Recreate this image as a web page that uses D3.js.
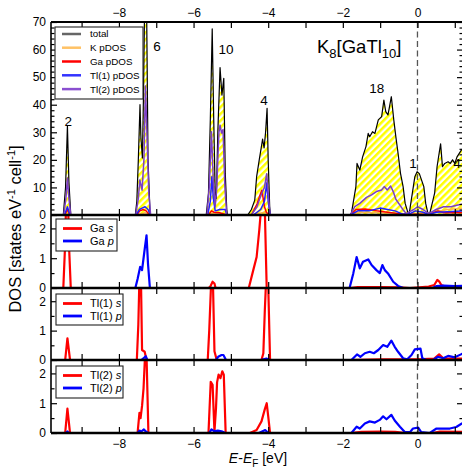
<!DOCTYPE html>
<html>
<head>
<meta charset="utf-8">
<script src="https://cdn.jsdelivr.net/npm/d3@7"></script>
<style>
  body { margin: 0; background: #fff; }
  svg { display: block; }
  text { font-family: "Liberation Sans", Arial, Helvetica, sans-serif; fill: #000; }
</style>
</head>
<body>
<svg id="chart" width="462" height="468"></svg>
<script>
// ---- Energy axis (eV relative to the Fermi level) ----
const energyDomain = [-9.82, 1.22];
const xMajorTicks = [-8, -6, -4, -2, 0];
const xMinorTicks = [-9, -7, -5, -3, -1, 1];

// ---- Top panel: total and projected DOS, [E, DOS] ----
const totalDOS = [
  [-9.82,0],[-9.49,0],[-9.43,10],[-9.38,32.3],[-9.34,12],[-9.29,0],
  [-7.56,0],[-7.52,5],[-7.48,20],[-7.435,40],[-7.41,28],[-7.37,20.7],[-7.34,45],[-7.31,78],[-7.26,78],[-7.22,20],[-7.17,2],[-7.15,0],
  [-5.66,0],[-5.60,8],[-5.55,35],[-5.50,67.5],[-5.46,35],[-5.42,8],[-5.39,6],[-5.35,30],[-5.29,53.5],[-5.24,43.5],[-5.19,49.6],[-5.15,15],[-5.11,2],[-5.09,0],
  [-4.55,0],[-4.45,2],[-4.36,5.4],[-4.31,13.9],[-4.24,20],[-4.18,25],[-4.15,27.5],[-4.11,24.3],[-4.07,30],[-4.03,38.7],[-4.0,20],[-3.96,3],[-3.94,0],
  [-1.81,0],[-1.77,0.6],[-1.65,10.3],[-1.62,18.7],[-1.545,16.3],[-1.47,21.1],[-1.38,24.8],[-1.32,29.6],[-1.28,28.4],[-1.205,30.2],[-1.14,29.6],
  [-1.05,34.5],[-0.96,35.7],[-0.90,41.7],[-0.85,37.5],[-0.79,36.3],[-0.70,42.9],[-0.635,34.5],[-0.58,28.4],[-0.52,22.4],[-0.455,15.1],
  [-0.385,10.3],[-0.33,4.2],[-0.25,0.6],
  [-0.22,0.6],[-0.07,13.9],[-0.01,15.7],[0.05,15],[0.17,10.3],[0.22,4.2],[0.28,0.6],
  [0.33,0.6],[0.46,7.9],[0.525,17.5],[0.58,22.4],[0.62,25.8],[0.67,17.5],[0.73,18.7],[0.82,19.3],[0.88,18.7],[0.94,20],[1.0,18.7],[1.06,21.1],[1.18,23.6],[1.22,24]
];
const kPDOS = [
  [-9.82,0],[-9.45,0],[-9.38,0.5],[-9.3,0],[-7.5,0],[-7.3,0.8],[-7.15,0],[-5.6,0],[-5.5,0.6],[-5.2,0.5],[-5.1,0],
  [-4.45,0],[-4.1,1],[-3.95,0],[-1.8,0],[-1.6,1],[-1.0,0.8],[-0.5,0.5],[-0.3,0.2],[0,0.5],[0.3,0.2],[0.5,1.2],[0.8,2],[1.22,2.5]
];
const gaPDOS = [
  [-9.82,0],[-9.45,0],[-9.38,2],[-9.32,0],[-7.52,0],[-7.44,1.5],[-7.35,2],[-7.27,1.5],[-7.18,0],
  [-5.6,0],[-5.52,1.5],[-5.45,1],[-5.3,0.8],[-5.11,0],[-4.45,0],[-4.3,4],[-4.2,8],[-4.17,9],[-4.1,3],[-4.05,1],[-3.97,0],
  [-1.8,0],[-1.65,2],[-1.4,2.2],[-1.1,1.5],[-0.8,1],[-0.5,0.5],[-0.3,0.2],[0,0.3],[0.3,0.2],[0.55,1.5],[0.7,0.8],[1.22,0.8]
];
const tl1PDOS = [
  [-9.82,0],[-9.46,0],[-9.38,3],[-9.31,0],[-7.54,0],[-7.45,2],[-7.38,2.5],[-7.3,3],[-7.22,2],[-7.16,0],
  [-5.62,0],[-5.55,5],[-5.51,13.9],[-5.47,6],[-5.42,1.5],[-5.3,2],[-5.15,2],[-5.11,0],
  [-4.4,0],[-4.2,2],[-4.1,5],[-4.04,11.6],[-4.0,5],[-3.95,0],
  [-1.8,0],[-1.6,1.5],[-1.3,1.5],[-1.0,2.5],[-0.8,2],[-0.6,1.5],[-0.4,0.3],[-0.2,0.5],[-0.05,1.5],[0.15,1],[0.3,0.2],[0.5,1],[0.8,1.2],[1.22,1.5]
];
const tl2PDOS = [
  [-9.82,0],[-9.48,0],[-9.42,6],[-9.38,13.4],[-9.34,6],[-9.29,0],
  [-7.55,0],[-7.48,6],[-7.44,12.7],[-7.38,9],[-7.33,20],[-7.29,46.8],[-7.25,30],[-7.2,8],[-7.15,0],
  [-5.64,0],[-5.58,10],[-5.52,30.2],[-5.47,12],[-5.42,3],[-5.38,10],[-5.32,30],[-5.29,32.6],[-5.25,29.7],[-5.21,31],[-5.16,10],[-5.11,0],
  [-4.45,0],[-4.3,3],[-4.2,7],[-4.1,10],[-4.04,15],[-4.0,8],[-3.95,0],
  [-1.8,0],[-1.77,0.8],[-1.68,3],[-1.545,4.2],[-1.365,6.4],[-1.23,7.3],[-1.10,8.5],[-0.96,9.1],[-0.89,10.3],[-0.81,9.1],[-0.72,10.5],
  [-0.65,8.5],[-0.58,5.7],[-0.47,3.6],[-0.37,1.6],[-0.3,0.5],[-0.1,2],[0,3],[0.15,2],[0.3,0.5],[0.5,2],[0.7,3],[0.9,3],[1.05,3.5],[1.22,4]
];

// ---- Orbital-resolved DOS, [E, DOS] ----
const gaS = [
  [-9.82,0],[-9.49,0],[-9.44,1.5],[-9.41,3.2],[-9.37,3.2],[-9.33,1.2],[-9.29,0],
  [-5.6,0],[-5.55,0.05],[-5.49,0.21],[-5.44,0.15],[-5.41,0],
  [-4.52,0],[-4.40,0.6],[-4.31,1.04],[-4.24,1.93],[-4.195,2.6],[-4.15,3.5],[-4.11,3.5],[-4.09,2.6],[-4.04,0],
  [-1.8,0],[-1.6,0.03],[-1.0,0.03],[-0.5,0.02],[-0.2,0],[0.3,0.05],[0.45,0.1],[0.53,0.27],[0.58,0.22],[0.64,0.1],[0.75,0.04],[1.22,0.03]
];
const gaP = [
  [-9.82,0],[-7.56,0],[-7.50,0.3],[-7.43,0.71],[-7.38,0.6],[-7.32,1.2],[-7.26,1.77],[-7.22,0.8],[-7.17,0],
  [-1.82,0],[-1.72,0.49],[-1.63,1.04],[-1.545,0.66],[-1.46,0.88],[-1.32,0.96],[-1.23,0.77],[-1.10,0.6],[-1.01,0.5],
  [-0.94,0.77],[-0.875,0.6],[-0.79,0.49],[-0.65,0.21],[-0.52,0.07],[-0.38,0],[0.4,0],[0.5,0.06],[0.7,0.08],[1.0,0.06],[1.22,0.07]
];
const tl1S = [
  [-9.82,0],[-9.44,0],[-9.38,0.74],[-9.31,0],
  [-7.52,0],[-7.48,1.2],[-7.45,2.8],[-7.41,2.8],[-7.38,0.34],[-7.31,0.28],[-7.26,0],
  [-5.62,0],[-5.58,1.0],[-5.53,2.6],[-5.48,2.6],[-5.44,0.3],[-5.41,0.15],[-5.38,0],
  [-4.18,0],[-4.13,0.23],[-4.09,1.7],[-4.06,2.6],[-4.0,2.6],[-3.95,0],
  [-1.8,0],[-1.0,0.02],[0,0.02],[0.45,0.05],[0.58,0.19],[0.69,0.06],[1.22,0.05]
];
const tl1P = [
  [-9.82,0],[-7.4,0],[-7.32,0.08],[-7.28,0.13],[-7.24,0],[-5.4,0],[-5.34,0.11],[-5.25,0.17],[-5.20,0.17],[-5.13,0],
  [-4.2,0],[-4.05,0.05],[-3.95,0],
  [-1.77,0],[-1.62,0.19],[-1.53,0.11],[-1.41,0.23],[-1.28,0.28],[-1.17,0.23],[-1.05,0.34],[-0.92,0.51],[-0.81,0.45],[-0.70,0.66],
  [-0.61,0.45],[-0.52,0.28],[-0.385,0.06],[-0.28,0.02],[-0.16,0.17],[-0.07,0.36],[0.08,0.39],[0.13,0.06],[0.24,0],[0.42,0],
  [0.55,0.11],[0.69,0.06],[0.82,0.14],[1.0,0.09],[1.18,0.2],[1.22,0.22]
];
const tl2S = [
  [-9.82,0],[-9.44,0],[-9.38,0.82],[-9.31,0],
  [-7.50,0],[-7.45,0.68],[-7.42,0.5],[-7.38,0.91],[-7.34,1.5],[-7.30,2.6],[-7.26,2.6],[-7.21,0],
  [-5.60,0],[-5.54,1.72],[-5.49,1.62],[-5.44,0.05],[-5.40,0.8],[-5.37,1.7],[-5.33,1.96],[-5.28,1.84],[-5.23,2.07],[-5.19,1.96],[-5.14,0],
  [-4.49,0],[-4.31,0.1],[-4.18,0.39],[-4.09,0.8],[-4.04,1.0],[-4.0,0.57],[-3.95,0],
  [-1.8,0],[-1.5,0.04],[-1.0,0.05],[-0.6,0.04],[-0.3,0],[0.4,0],[0.6,0.05],[1.22,0.04]
];
const tl2P = [
  [-9.82,0],[-9.42,0],[-9.38,0.05],[-9.34,0],[-7.5,0],[-7.45,0.08],[-7.4,0.05],[-7.33,0.12],[-7.28,0.05],[-7.22,0],
  [-5.58,0],[-5.52,0.12],[-5.45,0.06],[-5.35,0.08],[-5.25,0.06],[-5.15,0],[-4.25,0],[-4.15,0.06],[-4.08,0.1],[-4.0,0],
  [-1.77,0],[-1.63,0.21],[-1.545,0.15],[-1.41,0.32],[-1.28,0.39],[-1.14,0.35],[-1.01,0.44],[-0.92,0.56],[-0.83,0.46],[-0.70,0.61],
  [-0.61,0.42],[-0.47,0.21],[-0.34,0.03],[-0.2,0.03],[-0.12,0.15],[0.02,0.18],[0.1,0.03],[0.33,0],[0.51,0.15],[0.69,0.15],
  [0.87,0.15],[1.04,0.2],[1.19,0.32],[1.22,0.33]
];

// ---- Electron counts written above the band groups, anchored at [E, DOS] ----
const peakCounts = [
  ["2", -9.36, 34], ["6", -6.98, 61.3], ["10", -5.13, 60.2], ["4", -4.11, 41.7],
  ["18", -1.09, 46], ["1", -0.12, 18.9], ["4", 1.06, 18.9]
];

// ---- Tick values ----
const topYMajor = [0, 10, 20, 30, 40, 50, 60, 70];
const topYMinor = d3.range(2, 70, 2).filter(v => v % 10 !== 0);
const subYMajor = [0, 1, 2];
const subYMinor = [0.5, 1.5];

// ---- Layout ----
const left = 51, right = 463;
const svg = d3.select("#chart");
const x = d3.scaleLinear().domain(energyDomain).range([left, right]);

const panels = [
  { top: 22,  bottom: 215, max: 70 },
  { top: 215, bottom: 288, max: 2.45 },
  { top: 288, bottom: 360, max: 2.45 },
  { top: 360, bottom: 433, max: 2.45 }
];
panels.forEach((p, i) => {
  p.y = d3.scaleLinear().domain([0, p.max]).range([p.bottom, p.top]);
  p.id = "clip" + i;
});

const defs = svg.append("defs");
panels.forEach(p => {
  defs.append("clipPath").attr("id", p.id)
    .append("rect").attr("x", left).attr("y", p.top)
    .attr("width", right - left).attr("height", p.bottom - p.top);
});
const pat = defs.append("pattern").attr("id", "hatch")
  .attr("patternUnits", "userSpaceOnUse").attr("width", 4.8).attr("height", 4.8)
  .attr("patternTransform", "rotate(45)");
pat.append("rect").attr("width", 4.8).attr("height", 4.8).attr("fill", "#fff");
pat.append("rect").attr("width", 2.5).attr("height", 4.8).attr("fill", "#ffff00");

function lineFor(p) {
  return d3.line().x(d => x(d[0])).y(d => p.y(d[1]));
}

// ---- Top panel ----
const P0 = panels[0];
const g0 = svg.append("g").attr("clip-path", `url(#${P0.id})`);
g0.append("path").datum(totalDOS)
  .attr("d", d3.area().x(d => x(d[0])).y0(P0.y(0)).y1(d => P0.y(d[1])))
  .attr("fill", "url(#hatch)");

// Fermi level
svg.append("line")
  .attr("x1", x(0)).attr("x2", x(0))
  .attr("y1", panels[0].top).attr("y2", panels[3].bottom)
  .attr("stroke", "#555").attr("stroke-width", 1.3).attr("stroke-dasharray", "6,3.5");

const topSeries = [
  { data: totalDOS, color: "#000", w: 1.2 },
  { data: kPDOS, color: "#ffb74a", w: 1.5 },
  { data: gaPDOS, color: "#ff0000", w: 1.5 },
  { data: tl1PDOS, color: "#2020ff", w: 1.5 },
  { data: tl2PDOS, color: "#7b3fc4", w: 1.5 }
];
topSeries.forEach(s => {
  g0.append("path").datum(s.data).attr("d", lineFor(P0))
    .attr("fill", "none").attr("stroke", s.color).attr("stroke-width", s.w)
    .attr("stroke-linejoin", "round");
});

// ---- Orbital panels ----
const subSeries = [
  [gaS, gaP], [tl1S, tl1P], [tl2S, tl2P]
];
subSeries.forEach((pair, i) => {
  const p = panels[i + 1];
  const g = svg.append("g").attr("clip-path", `url(#${p.id})`);
  [["#ff0000", pair[0]], ["#0000ff", pair[1]]].forEach(([c, data]) => {
    g.append("path").datum(data).attr("d", lineFor(p))
      .attr("fill", "none").attr("stroke", c).attr("stroke-width", 2.2)
      .attr("stroke-linejoin", "round");
  });
});

// ---- Axes ----
const allX = xMajorTicks.concat(xMinorTicks);
function strip(g) { g.select(".domain").remove(); return g; }

// top edge: ticks inward, labels above
svg.append("g").attr("transform", `translate(0,${panels[0].top})`)
  .call(d3.axisTop(x).tickValues(xMajorTicks).tickSizeInner(-6).tickSizeOuter(0).tickPadding(5)
    .tickFormat(d3.format("d")))
  .call(strip).call(g => g.selectAll("text").attr("font-size", 12).attr("font-family", null));
svg.append("g").attr("transform", `translate(0,${panels[0].top})`)
  .call(d3.axisTop(x).tickValues(xMinorTicks).tickSizeInner(-6).tickSizeOuter(0).tickFormat(""))
  .call(strip);

// panel boundaries: ticks on both sides
[panels[1].top, panels[2].top, panels[3].top].forEach(yb => {
  svg.append("g").attr("transform", `translate(0,${yb})`)
    .call(d3.axisBottom(x).tickValues(allX).tickSizeInner(6).tickSizeOuter(0).tickFormat(""))
    .call(strip);
  svg.append("g").attr("transform", `translate(0,${yb})`)
    .call(d3.axisTop(x).tickValues(allX).tickSizeInner(6).tickSizeOuter(0).tickFormat(""))
    .call(strip);
});

// bottom edge: ticks inward, labels below
svg.append("g").attr("transform", `translate(0,${panels[3].bottom})`)
  .call(d3.axisBottom(x).tickValues(xMajorTicks).tickSizeInner(-6).tickSizeOuter(0).tickPadding(6)
    .tickFormat(d3.format("d")))
  .call(strip).call(g => g.selectAll("text").attr("font-size", 12).attr("font-family", null));
svg.append("g").attr("transform", `translate(0,${panels[3].bottom})`)
  .call(d3.axisBottom(x).tickValues(xMinorTicks).tickSizeInner(-6).tickSizeOuter(0).tickFormat(""))
  .call(strip);

// y axes, left (labelled) and right (ticks only)
panels.forEach((p, i) => {
  const major = i === 0 ? topYMajor : subYMajor;
  const minor = i === 0 ? topYMinor : subYMinor;
  svg.append("g").attr("transform", `translate(${left},0)`)
    .call(d3.axisLeft(p.y).tickValues(major).tickSizeInner(-6).tickSizeOuter(0).tickPadding(5).tickFormat(d3.format("d")))
    .call(strip).call(g => g.selectAll("text").attr("font-size", 12).attr("font-family", null));
  svg.append("g").attr("transform", `translate(${left},0)`)
    .call(d3.axisLeft(p.y).tickValues(minor).tickSizeInner(-3.5).tickSizeOuter(0).tickFormat(""))
    .call(strip);
  svg.append("g").attr("transform", `translate(${right},0)`)
    .call(d3.axisRight(p.y).tickValues(major).tickSizeInner(-6).tickSizeOuter(0).tickFormat(""))
    .call(strip);
  svg.append("g").attr("transform", `translate(${right},0)`)
    .call(d3.axisRight(p.y).tickValues(minor).tickSizeInner(-3.5).tickSizeOuter(0).tickFormat(""))
    .call(strip);
});
svg.selectAll(".tick line").attr("stroke", "#000").attr("stroke-width", 1.2);

// frame
const frame = svg.append("g").attr("stroke", "#000").attr("fill", "none");
frame.append("line").attr("x1", left).attr("x2", right).attr("y1", panels[0].top).attr("y2", panels[0].top).attr("stroke-width", 2);
[panels[1].top, panels[2].top, panels[3].top].forEach(yb =>
  frame.append("line").attr("x1", left).attr("x2", right).attr("y1", yb).attr("y2", yb).attr("stroke-width", 2.6));
frame.append("line").attr("x1", left).attr("x2", right).attr("y1", panels[3].bottom).attr("y2", panels[3].bottom).attr("stroke-width", 2.4);
frame.append("line").attr("x1", left).attr("x2", left).attr("y1", panels[0].top).attr("y2", panels[3].bottom).attr("stroke-width", 1.6);
frame.append("line").attr("x1", right).attr("x2", right).attr("y1", panels[0].top).attr("y2", panels[3].bottom).attr("stroke-width", 1.6);

// ---- Peak counts ----
peakCounts.forEach(([t, e, v]) => {
  svg.append("text").attr("x", x(e)).attr("y", P0.y(v)).attr("dy", "0.35em")
    .attr("text-anchor", "middle").attr("font-size", 13.5).text(t);
});

// ---- Compound name ----
const title = svg.append("text").attr("x", 317).attr("y", 53).attr("font-size", 18.5);
title.append("tspan").text("K");
title.append("tspan").attr("font-size", 13).attr("dy", 5).text("8");
title.append("tspan").attr("dy", -5).text("[GaTl");
title.append("tspan").attr("font-size", 13).attr("dy", 5).text("10");
title.append("tspan").attr("dy", -5).text("]");

// ---- Legends ----
function legend(x0, y0, w, h, items, fs, tx) {
  const g = svg.append("g");
  g.append("rect").attr("x", x0).attr("y", y0).attr("width", w).attr("height", h)
    .attr("fill", "#fff").attr("stroke", "#222").attr("stroke-width", 1.1);
  items.forEach(it => {
    const yy = y0 + it.dy;
    g.append("line").attr("x1", x0 + 7).attr("x2", x0 + 26).attr("y1", yy).attr("y2", yy)
      .attr("stroke", it.color).attr("stroke-width", it.w);
    const t = g.append("text").attr("x", x0 + tx).attr("y", yy).attr("dy", "0.35em").attr("font-size", fs);
    it.parts.forEach(([s, italic]) => {
      const sp = t.append("tspan").text(s);
      if (italic) sp.attr("font-style", "italic");
    });
  });
}
legend(55, 27, 88, 72, [
  { dy: 7,  color: "#666",    w: 2.5, parts: [["total"]] },
  { dy: 20.7, color: "#ffc266", w: 2.5, parts: [["K pDOS"]] },
  { dy: 34.5, color: "#ff0000", w: 2.5, parts: [["Ga pDOS"]] },
  { dy: 48.3, color: "#3333ff", w: 2.5, parts: [["Tl(1) pDOS"]] },
  { dy: 62.1, color: "#8a4fd0", w: 2.5, parts: [["Tl(2) pDOS"]] }
], 9.8, 35);
legend(56, 219, 61, 32, [
  { dy: 9.5, color: "#ff0000", w: 2.8, parts: [["Ga "], ["s", true]] },
  { dy: 22, color: "#0000ff", w: 2.8, parts: [["Ga "], ["p", true]] }
], 11, 34);
legend(56, 294, 67, 31, [
  { dy: 9.5, color: "#ff0000", w: 2.8, parts: [["Tl(1) "], ["s", true]] },
  { dy: 22, color: "#0000ff", w: 2.8, parts: [["Tl(1) "], ["p", true]] }
], 11, 34);
legend(56, 366, 67, 32, [
  { dy: 9.5, color: "#ff0000", w: 2.8, parts: [["Tl(2) "], ["s", true]] },
  { dy: 22, color: "#0000ff", w: 2.8, parts: [["Tl(2) "], ["p", true]] }
], 11, 34);

// ---- Axis titles ----
const xt = svg.append("text").attr("x", 258).attr("y", 463).attr("text-anchor", "middle").attr("font-size", 14);
xt.append("tspan").attr("font-style", "italic").text("E");
xt.append("tspan").text("-");
xt.append("tspan").attr("font-style", "italic").text("E");
xt.append("tspan").attr("font-size", 10).attr("dy", 4).text("F");
xt.append("tspan").attr("dy", -4).text(" [eV]");

const yt = svg.append("text").attr("transform", "translate(21,229) rotate(-90)")
  .attr("text-anchor", "middle").attr("font-size", 16.5);
yt.append("tspan").text("DOS [states eV");
yt.append("tspan").attr("font-size", 11).attr("dy", -6).text("-1");
yt.append("tspan").attr("dy", 6).text(" cell");
yt.append("tspan").attr("font-size", 11).attr("dy", -6).text("-1");
yt.append("tspan").attr("dy", 6).text("]");
</script>
</body>
</html>
